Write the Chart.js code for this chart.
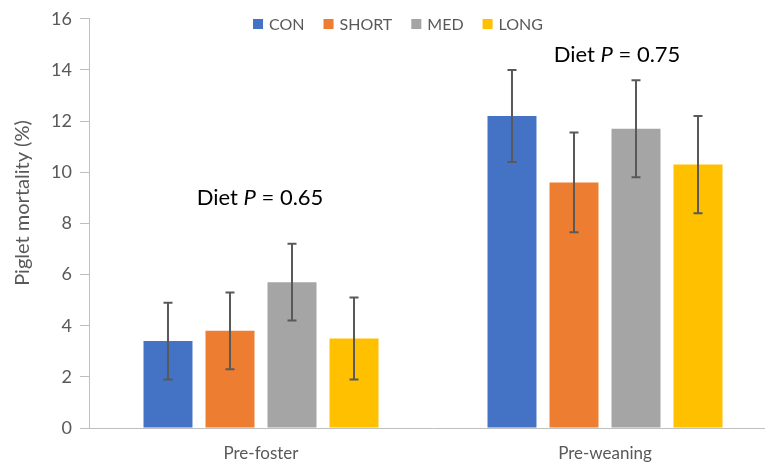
<!DOCTYPE html>
<html>
<head>
<meta charset="utf-8">
<script src="https://cdn.jsdelivr.net/npm/chart.js@4.4.1/dist/chart.umd.min.js"></script>
<style>
  html, body { margin: 0; padding: 0; background: #fff; overflow: hidden; }
  #wrap { width: 780px; height: 467px; }
</style>
</head>
<body>
<div id="wrap"><canvas id="chart-canvas" width="780" height="467"></canvas></div>
<script>
// data
const categories = ['Pre-foster', 'Pre-weaning'];
const seriesNames = ['CON', 'SHORT', 'MED', 'LONG'];
const conValues = [3.4, 12.2];
const shortValues = [3.8, 9.6];
const medValues = [5.7, 11.7];
const longValues = [3.5, 10.3];
const conErrors = [1.5, 1.8];
const shortErrors = [1.5, 1.95];
const medErrors = [1.5, 1.9];
const longErrors = [1.6, 1.9];
const yTicks = [0, 2, 4, 6, 8, 10, 12, 14, 16];
const dietP = ['0.65', '0.75'];

const colors = ['#4472C4', '#ED7D31', '#A5A5A5', '#FFC000'];
const textGrey = '#595959';
const axisGrey = '#BFBFBF';
const FONT = 'Lato';

Chart.defaults.font.family = FONT;
Chart.defaults.color = textGrey;

const values = [conValues, shortValues, medValues, longValues];
const errors = [conErrors, shortErrors, medErrors, longErrors];

// error bars drawn on top of each bar
const errorBars = {
  id: 'errorBars',
  afterDatasetsDraw(chart) {
    const ctx = chart.ctx, y = chart.scales.y;
    ctx.save();
    ctx.strokeStyle = '#595959';
    ctx.lineWidth = 2;
    chart.data.datasets.forEach((ds, i) => {
      chart.getDatasetMeta(i).data.forEach((bar, j) => {
        const top = y.getPixelForValue(ds.data[j] + ds.errors[j]);
        const bot = y.getPixelForValue(ds.data[j] - ds.errors[j]);
        ctx.beginPath();
        ctx.moveTo(bar.x, top); ctx.lineTo(bar.x, bot);
        ctx.moveTo(bar.x - 4.5, top); ctx.lineTo(bar.x + 4.5, top);
        ctx.moveTo(bar.x - 4.5, bot); ctx.lineTo(bar.x + 4.5, bot);
        ctx.stroke();
      });
    });
    ctx.restore();
  }
};

// legend overlapping the plot, like the Excel original
const topLegend = {
  id: 'topLegend',
  afterDraw(chart) {
    const ctx = chart.ctx;
    ctx.save();
    ctx.font = '16px ' + FONT;
    ctx.textBaseline = 'middle';
    const box = 10, gap = 6, spacing = 19;
    const items = chart.data.datasets.map(ds => ({ label: ds.label, color: ds.backgroundColor, w: box + gap + ctx.measureText(ds.label).width }));
    const total = items.reduce((s, it) => s + it.w, 0) + spacing * (items.length - 1);
    let x = 398 - total / 2;
    const cy = 24;
    items.forEach(it => {
      ctx.fillStyle = it.color;
      ctx.fillRect(x, cy - box / 2, box, box);
      ctx.fillStyle = textGrey;
      ctx.fillText(it.label, x + box + gap, cy + 1);
      x += it.w + spacing;
    });
    ctx.restore();
  }
};

// y axis title, sits a bit above the plot centre in the original
const yTitle = {
  id: 'yTitle',
  afterDraw(chart) {
    const ctx = chart.ctx;
    ctx.save();
    ctx.translate(23, 203);
    ctx.rotate(-Math.PI / 2);
    ctx.font = '20px ' + FONT;
    ctx.fillStyle = textGrey;
    ctx.textAlign = 'center';
    ctx.textBaseline = 'middle';
    ctx.fillText('Piglet mortality (%)', 0, 0);
    ctx.restore();
  }
};

// "Diet P = x" notes above each group
const dietNotes = {
  id: 'dietNotes',
  afterDraw(chart) {
    const ctx = chart.ctx, xs = chart.scales.x, ys = chart.scales.y;
    const dx = [-1, 12], atValue = [9.0, 14.6];
    ctx.save();
    ctx.fillStyle = '#000';
    ctx.textBaseline = 'middle';
    dietP.forEach((p, i) => {
      const parts = [['Diet ', ''], ['P', 'italic '], [' = ' + p, '']];
      let w = 0;
      parts.forEach(pt => { ctx.font = pt[1] + '22px ' + FONT; w += ctx.measureText(pt[0]).width; });
      let x = xs.getPixelForValue(i) + dx[i] - w / 2;
      const y = ys.getPixelForValue(atValue[i]);
      parts.forEach(pt => {
        ctx.font = pt[1] + '22px ' + FONT;
        ctx.fillText(pt[0], x, y);
        x += ctx.measureText(pt[0]).width;
      });
    });
    ctx.restore();
  }
};

new Chart(document.getElementById('chart-canvas'), {
  type: 'bar',
  data: {
    labels: categories,
    datasets: seriesNames.map((name, i) => ({
      label: name,
      data: values[i],
      errors: errors[i],
      backgroundColor: colors[i],
      borderWidth: 0,
      categoryPercentage: 0.721,
      barPercentage: 0.79,
    })),
  },
  options: {
    responsive: false,
    animation: false,
    devicePixelRatio: 1,
    layout: { padding: { left: 51, right: 3, top: 18, bottom: 5 } },
    plugins: {
      legend: { display: false },
      tooltip: { enabled: false },
    },
    scales: {
      x: {
        grid: { display: false, drawTicks: false },
        border: { display: true, color: axisGrey, width: 1 },
        ticks: { padding: 15, color: textGrey, font: { size: 17 } },
        afterFit: (s) => { s.height = 34; },
      },
      y: {
        min: 0,
        max: 16,
        afterBuildTicks: (s) => { s.ticks = yTicks.map(v => ({ value: v })); },
        grid: { display: true, drawOnChartArea: false, drawTicks: true, tickLength: 9, color: axisGrey },
        border: { display: true, color: axisGrey, width: 1 },
        ticks: { padding: 8, color: textGrey, font: { size: 18 } },
        afterFit: (s) => { s.width = 38; },
      },
    },
  },
  plugins: [errorBars, topLegend, yTitle, dietNotes],
});
</script>
</body>
</html>
